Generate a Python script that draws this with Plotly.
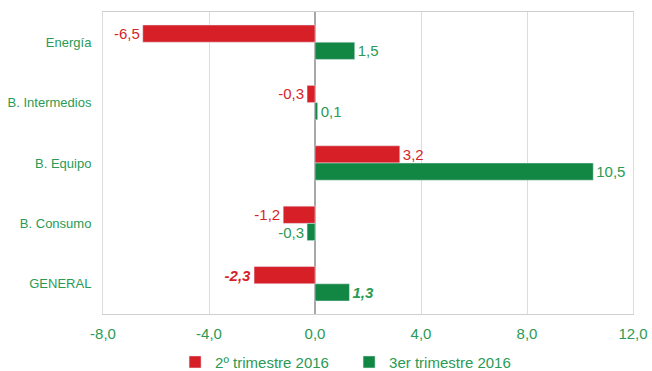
import plotly.graph_objects as go

categories = ['Energía', 'B. Intermedios', 'B. Equipo', 'B. Consumo', 'GENERAL']
q2_2016 = [-6.5, -0.3, 3.2, -1.2, -2.3]
q3_2016 = [1.5, 0.1, 10.5, -0.3, 1.3]
x_ticks = [-8, -4, 0, 4, 8, 12]
x_tick_text = ['-8,0', '-4,0', '0,0', '4,0', '8,0', '12,0']

red = '#d71f27'
green = '#128744'
text_green = '#2a9a55'


def labels(values):
    out = []
    for cat, v in zip(categories, values):
        s = f'{v:.1f}'.replace('.', ',')
        if cat == 'GENERAL':
            s = f'<b><i>{s}</i></b>'
        out.append(s)
    return out


fig = go.Figure()
fig.add_trace(go.Bar(
    y=categories, x=q2_2016, orientation='h', name='2º trimestre 2016',
    marker=dict(color=red), text=labels(q2_2016), textposition='outside',
    textfont=dict(color=red, size=15), cliponaxis=False,
))
fig.add_trace(go.Bar(
    y=categories, x=q3_2016, orientation='h', name='3er trimestre 2016',
    marker=dict(color=green), text=labels(q3_2016), textposition='outside',
    textfont=dict(color=text_green, size=15), cliponaxis=False,
))

fig.update_layout(
    width=652, height=371,
    margin=dict(l=103, r=19, t=12, b=57, autoexpand=False),
    barmode='group', bargap=0.43, bargroupgap=0,
    separators=',.',
    plot_bgcolor='white', paper_bgcolor='white',
    font=dict(family='Liberation Sans, Arial, sans-serif', color=text_green),
    showlegend=True,
    legend=dict(orientation='h', x=0.136, xanchor='left', y=-0.105, yanchor='top',
                font=dict(size=15, color=text_green), traceorder='normal',
                itemwidth=30, entrywidth=129, tracegroupgap=0),
)
fig.update_xaxes(
    range=[-8, 12], tickvals=x_ticks, ticktext=x_tick_text,
    showgrid=True, gridcolor='#dcdcdc', gridwidth=1,
    zeroline=True, zerolinecolor='#a8a8a8', zerolinewidth=2,
    showline=True, linecolor='#cfcfcf', mirror=True,
    tickfont=dict(size=15, color=text_green), ticks='', ticklabelstandoff=6,
    automargin=False,
)
fig.update_yaxes(
    autorange='reversed', showgrid=False,
    showline=True, linecolor='#dcdcdc', mirror=True,
    tickfont=dict(size=13, color=text_green), ticks='', ticklabelstandoff=8,
    automargin=False,
)

# drop the default page margin so the figure fills the window exactly
fig.write_html('out.html', config={'displayModeBar': False},
               post_script="document.body.style.margin='0';"
                           "document.body.style.overflow='hidden';")
